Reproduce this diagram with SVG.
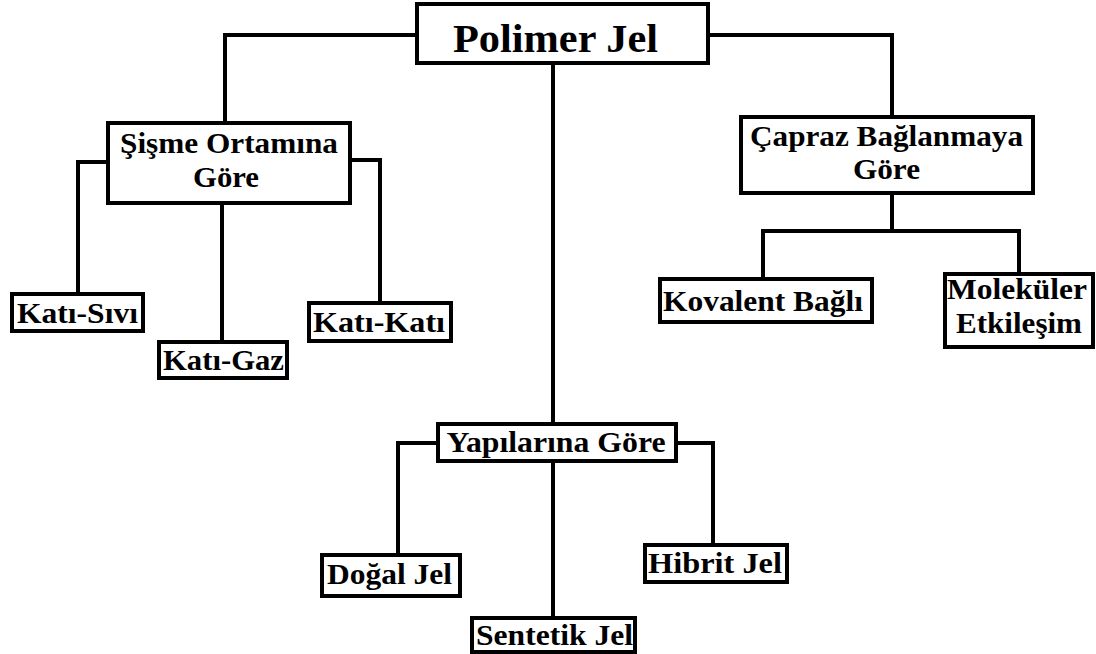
<svg xmlns="http://www.w3.org/2000/svg" width="1096" height="654" viewBox="0 0 1096 654">
<style>
.box{fill:#fff;stroke:#000;stroke-width:4}
.conn{fill:none;stroke:#000;stroke-width:4;stroke-linejoin:miter}
text{font-family:"Liberation Serif","Times New Roman",serif;font-weight:bold;fill:#000;text-anchor:middle;font-size:30px}
.big{font-size:41px}
</style>
<rect width="1096" height="654" fill="#fff"/>
<g id="connectors">
<path class="conn" d="M417,35 H225 V123"/>
<path class="conn" d="M708,35 H892 V117"/>
<path class="conn" d="M553,63 V424"/>
<path class="conn" d="M108,162 H78 V294"/>
<path class="conn" d="M350,160 H380 V303"/>
<path class="conn" d="M222,203 V342"/>
<path class="conn" d="M892,193 V231"/>
<path class="conn" d="M763,279 V231 H1019 V274"/>
<path class="conn" d="M553,461 V618"/>
<path class="conn" d="M438,443 H398 V555"/>
<path class="conn" d="M676,443 H713 V545"/>
</g>
<g id="polimer-jel">
<rect class="box" x="417" y="4" width="291" height="59"/>
<text class="big" x="555.5" y="52" textLength="205" lengthAdjust="spacingAndGlyphs">Polimer Jel</text>
</g>
<g id="sisme">
<rect class="box" x="108" y="123" width="242" height="80"/>
<text x="229" y="153" textLength="218" lengthAdjust="spacingAndGlyphs">Şişme Ortamına</text>
<text x="226" y="187" textLength="66" lengthAdjust="spacingAndGlyphs">Göre</text>
</g>
<g id="kati-sivi">
<rect class="box" x="12" y="294" width="131" height="37"/>
<text x="77.5" y="323" textLength="121" lengthAdjust="spacingAndGlyphs">Katı-Sıvı</text>
</g>
<g id="kati-gaz">
<rect class="box" x="159" y="342" width="128" height="36"/>
<text x="223.5" y="370" textLength="121" lengthAdjust="spacingAndGlyphs">Katı-Gaz</text>
</g>
<g id="kati-kati">
<rect class="box" x="309" y="303" width="142" height="38"/>
<text x="379" y="332" textLength="132" lengthAdjust="spacingAndGlyphs">Katı-Katı</text>
</g>
<g id="capraz">
<rect class="box" x="741" y="117" width="292" height="76"/>
<text x="886.5" y="146" textLength="273" lengthAdjust="spacingAndGlyphs">Çapraz Bağlanmaya</text>
<text x="886.5" y="179" textLength="67" lengthAdjust="spacingAndGlyphs">Göre</text>
</g>
<g id="kovalent">
<rect class="box" x="660" y="279" width="212" height="43"/>
<text x="763" y="311" textLength="200" lengthAdjust="spacingAndGlyphs">Kovalent Bağlı</text>
</g>
<g id="molekuler">
<rect class="box" x="945" y="274" width="148" height="73"/>
<text x="1017" y="299" textLength="140" lengthAdjust="spacingAndGlyphs">Moleküler</text>
<text x="1019" y="333" textLength="126" lengthAdjust="spacingAndGlyphs">Etkileşim</text>
</g>
<g id="yapilarina">
<rect class="box" x="438" y="424" width="238" height="37"/>
<text x="556" y="452" textLength="219" lengthAdjust="spacingAndGlyphs">Yapılarına Göre</text>
</g>
<g id="dogal">
<rect class="box" x="322" y="555" width="138" height="41"/>
<text x="389.5" y="584" textLength="125" lengthAdjust="spacingAndGlyphs">Doğal Jel</text>
</g>
<g id="sentetik">
<rect class="box" x="472" y="618" width="163" height="34"/>
<text x="554.5" y="645" textLength="157" lengthAdjust="spacingAndGlyphs">Sentetik Jel</text>
</g>
<g id="hibrit">
<rect class="box" x="645" y="545" width="142" height="37"/>
<text x="715" y="573" textLength="134" lengthAdjust="spacingAndGlyphs">Hibrit Jel</text>
</g>
</svg>
